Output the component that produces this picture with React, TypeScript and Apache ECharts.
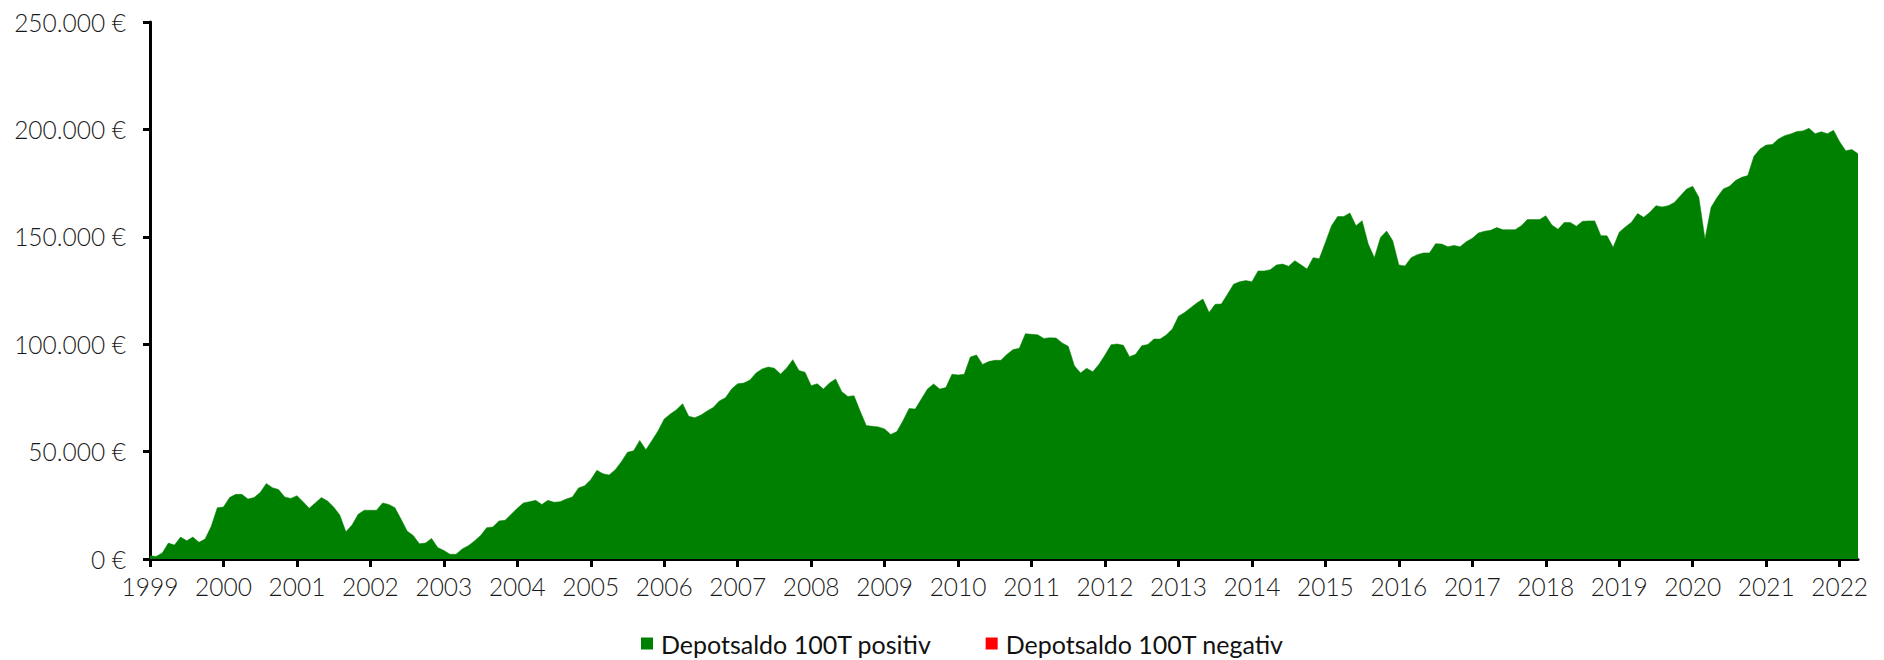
import React, { useEffect, useRef } from "react";
import * as echarts from "echarts";

const years = [1999, 2000, 2001, 2002, 2003, 2004, 2005, 2006, 2007, 2008, 2009, 2010, 2011, 2012, 2013, 2014, 2015, 2016, 2017, 2018, 2019, 2020, 2021, 2022];
const months = ["01", "02", "03", "04", "05", "06", "07", "08", "09", "10", "11", "12"];

const v1999 = [1500, 1200, 2800, 7400, 6500, 10200, 8500, 10200, 7800, 9300, 15200, 23900];
const v2000 = [24200, 28600, 30100, 30100, 27900, 28600, 31000, 35100, 33200, 32300, 28900, 28200];
const v2001 = [29500, 26700, 23600, 26100, 28600, 27000, 24200, 20500, 12700, 15800, 20800, 22700];
const v2002 = [22700, 22700, 26100, 25400, 23900, 18600, 13000, 10900, 7100, 7400, 9600, 5300];
const v2003 = [4000, 2200, 2200, 4700, 6200, 8400, 10900, 14600, 14900, 17700, 18000, 20800];
const v2004 = [23600, 26100, 26700, 27300, 25400, 27300, 26400, 26700, 27900, 28900, 33100, 34100];
const v2005 = [36900, 41300, 39700, 39100, 41600, 45300, 49700, 50400, 55200, 50900, 55200, 59700];
const v2006 = [65200, 67500, 69500, 72300, 66400, 65800, 67000, 68900, 70500, 73600, 75100, 79100];
const v2007 = [81600, 81900, 83300, 86600, 88500, 89400, 88800, 86100, 88900, 92800, 87800, 86900];
const v2008 = [80700, 81600, 79100, 81900, 83800, 77900, 75700, 76000, 68900, 62100, 61800, 61500];
const v2009 = [60500, 58000, 59300, 64400, 70100, 69800, 74500, 79100, 81500, 79100, 79800, 86000];
const v2010 = [85700, 86000, 94000, 95000, 90600, 91900, 92500, 92500, 95300, 97500, 98100, 104900];
const v2011 = [104600, 104400, 102700, 103000, 102900, 100600, 99000, 90000, 86600, 88800, 87200, 90600];
const v2012 = [95000, 99800, 100100, 99500, 94200, 95300, 99300, 99900, 102400, 102400, 104300, 107100];
const v2013 = [113000, 114800, 117000, 119200, 121000, 114800, 118600, 118700, 123200, 127900, 129100, 129600];
const v2014 = [129100, 134100, 134100, 134700, 136900, 137300, 136300, 138900, 137000, 135000, 140300, 139800];
const v2015 = [147400, 155200, 159400, 159500, 161100, 155200, 157500, 146600, 140300, 149700, 152700, 148200];
const v2016 = [136900, 136400, 140300, 141700, 142500, 142500, 146800, 146600, 145400, 146000, 145400, 147700];
const v2017 = [149300, 151800, 152600, 153000, 154300, 153300, 153300, 153300, 155200, 158000, 158000, 158000];
const v2018 = [159800, 155500, 153500, 156700, 156700, 154900, 157200, 157400, 157400, 150500, 150500, 145100];
const v2019 = [152100, 154600, 156800, 160800, 159100, 161400, 164500, 163900, 164500, 166000, 169100, 172200];
const v2020 = [173500, 168400, 149000, 163700, 168400, 172300, 173500, 176200, 177700, 178500, 187500, 190900];
const v2021 = [192700, 193000, 195500, 197100, 197900, 199000, 199300, 200500, 198000, 198900, 198000, 199600];
const v2022 = [194300, 190100, 190600, 188700];

const positive = [
  ...v1999, ...v2000, ...v2001, ...v2002, ...v2003, ...v2004, ...v2005, ...v2006,
  ...v2007, ...v2008, ...v2009, ...v2010, ...v2011, ...v2012, ...v2013, ...v2014,
  ...v2015, ...v2016, ...v2017, ...v2018, ...v2019, ...v2020, ...v2021, ...v2022,
];
const negative: number[] = [];

const categories: string[] = [];
years.forEach((y) => months.forEach((m) => categories.push(`${y}-${m}`)));
const cats = categories.slice(0, positive.length);

const seriesNames = ["Depotsaldo 100T positiv", "Depotsaldo 100T negativ"];

export default function App() {
  const ref = useRef<HTMLDivElement>(null);
  useEffect(() => {
    const chart = echarts.init(ref.current!, null, { renderer: "svg" });
    const font = "Lato";
    chart.setOption({
      animation: false,
      backgroundColor: "#ffffff",
      grid: { left: 150, right: 26, top: 22, bottom: 101, containLabel: false },
      legend: {
        left: 636,
        top: 626,
        itemWidth: 12,
        itemHeight: 12,
        itemGap: 54,
        icon: "rect",
        textStyle: { fontFamily: font, fontSize: 25, color: "#111", padding: [0, 0, 0, 3] },
        data: seriesNames,
      },
      xAxis: {
        type: "category",
        data: cats,
        boundaryGap: false,
        axisLine: { show: true, lineStyle: { color: "#000", width: 3 } },
        axisTick: {
          show: true,
          length: 8,
          interval: (i: number) => i % 12 === 0,
          lineStyle: { color: "#000", width: 3 },
        },
        axisLabel: {
          interval: (i: number) => i % 12 === 0,
          formatter: (v: string) => v.slice(0, 4),
          fontFamily: font,
          fontWeight: 300,
          fontSize: 24.5,
          color: "#1a1a1a",
          margin: 15,
        },
        splitLine: { show: false },
      },
      yAxis: {
        type: "value",
        min: 0,
        max: 250000,
        interval: 50000,
        axisLine: { show: true, lineStyle: { color: "#000", width: 3 } },
        axisTick: { show: true, length: 7, lineStyle: { color: "#000", width: 3 } },
        axisLabel: {
          formatter: (v: number) => v.toLocaleString("de-DE") + " €",
          fontFamily: font,
          fontWeight: 300,
          fontSize: 24.5,
          color: "#1a1a1a",
          margin: 24,
        },
        splitLine: { show: false },
      },
      series: [
        {
          name: seriesNames[0],
          type: "line",
          data: positive,
          showSymbol: false,
          symbol: "none",
          lineStyle: { width: 0.5, color: "#008000" },
          itemStyle: { color: "#008000" },
          areaStyle: { color: "#008000", opacity: 1 },
          z: 1,
        },
        {
          name: seriesNames[1],
          type: "line",
          data: negative,
          showSymbol: false,
          symbol: "none",
          lineStyle: { width: 0.5, color: "#ff0000" },
          itemStyle: { color: "#ff0000" },
          areaStyle: { color: "#ff0000", opacity: 1 },
        },
      ],
    });
    return () => chart.dispose();
  }, []);
  return (
    <div
      ref={ref}
      style={{ position: "fixed", left: 0, top: 0, width: 1884, height: 660, background: "#fff" }}
    />
  );
}
